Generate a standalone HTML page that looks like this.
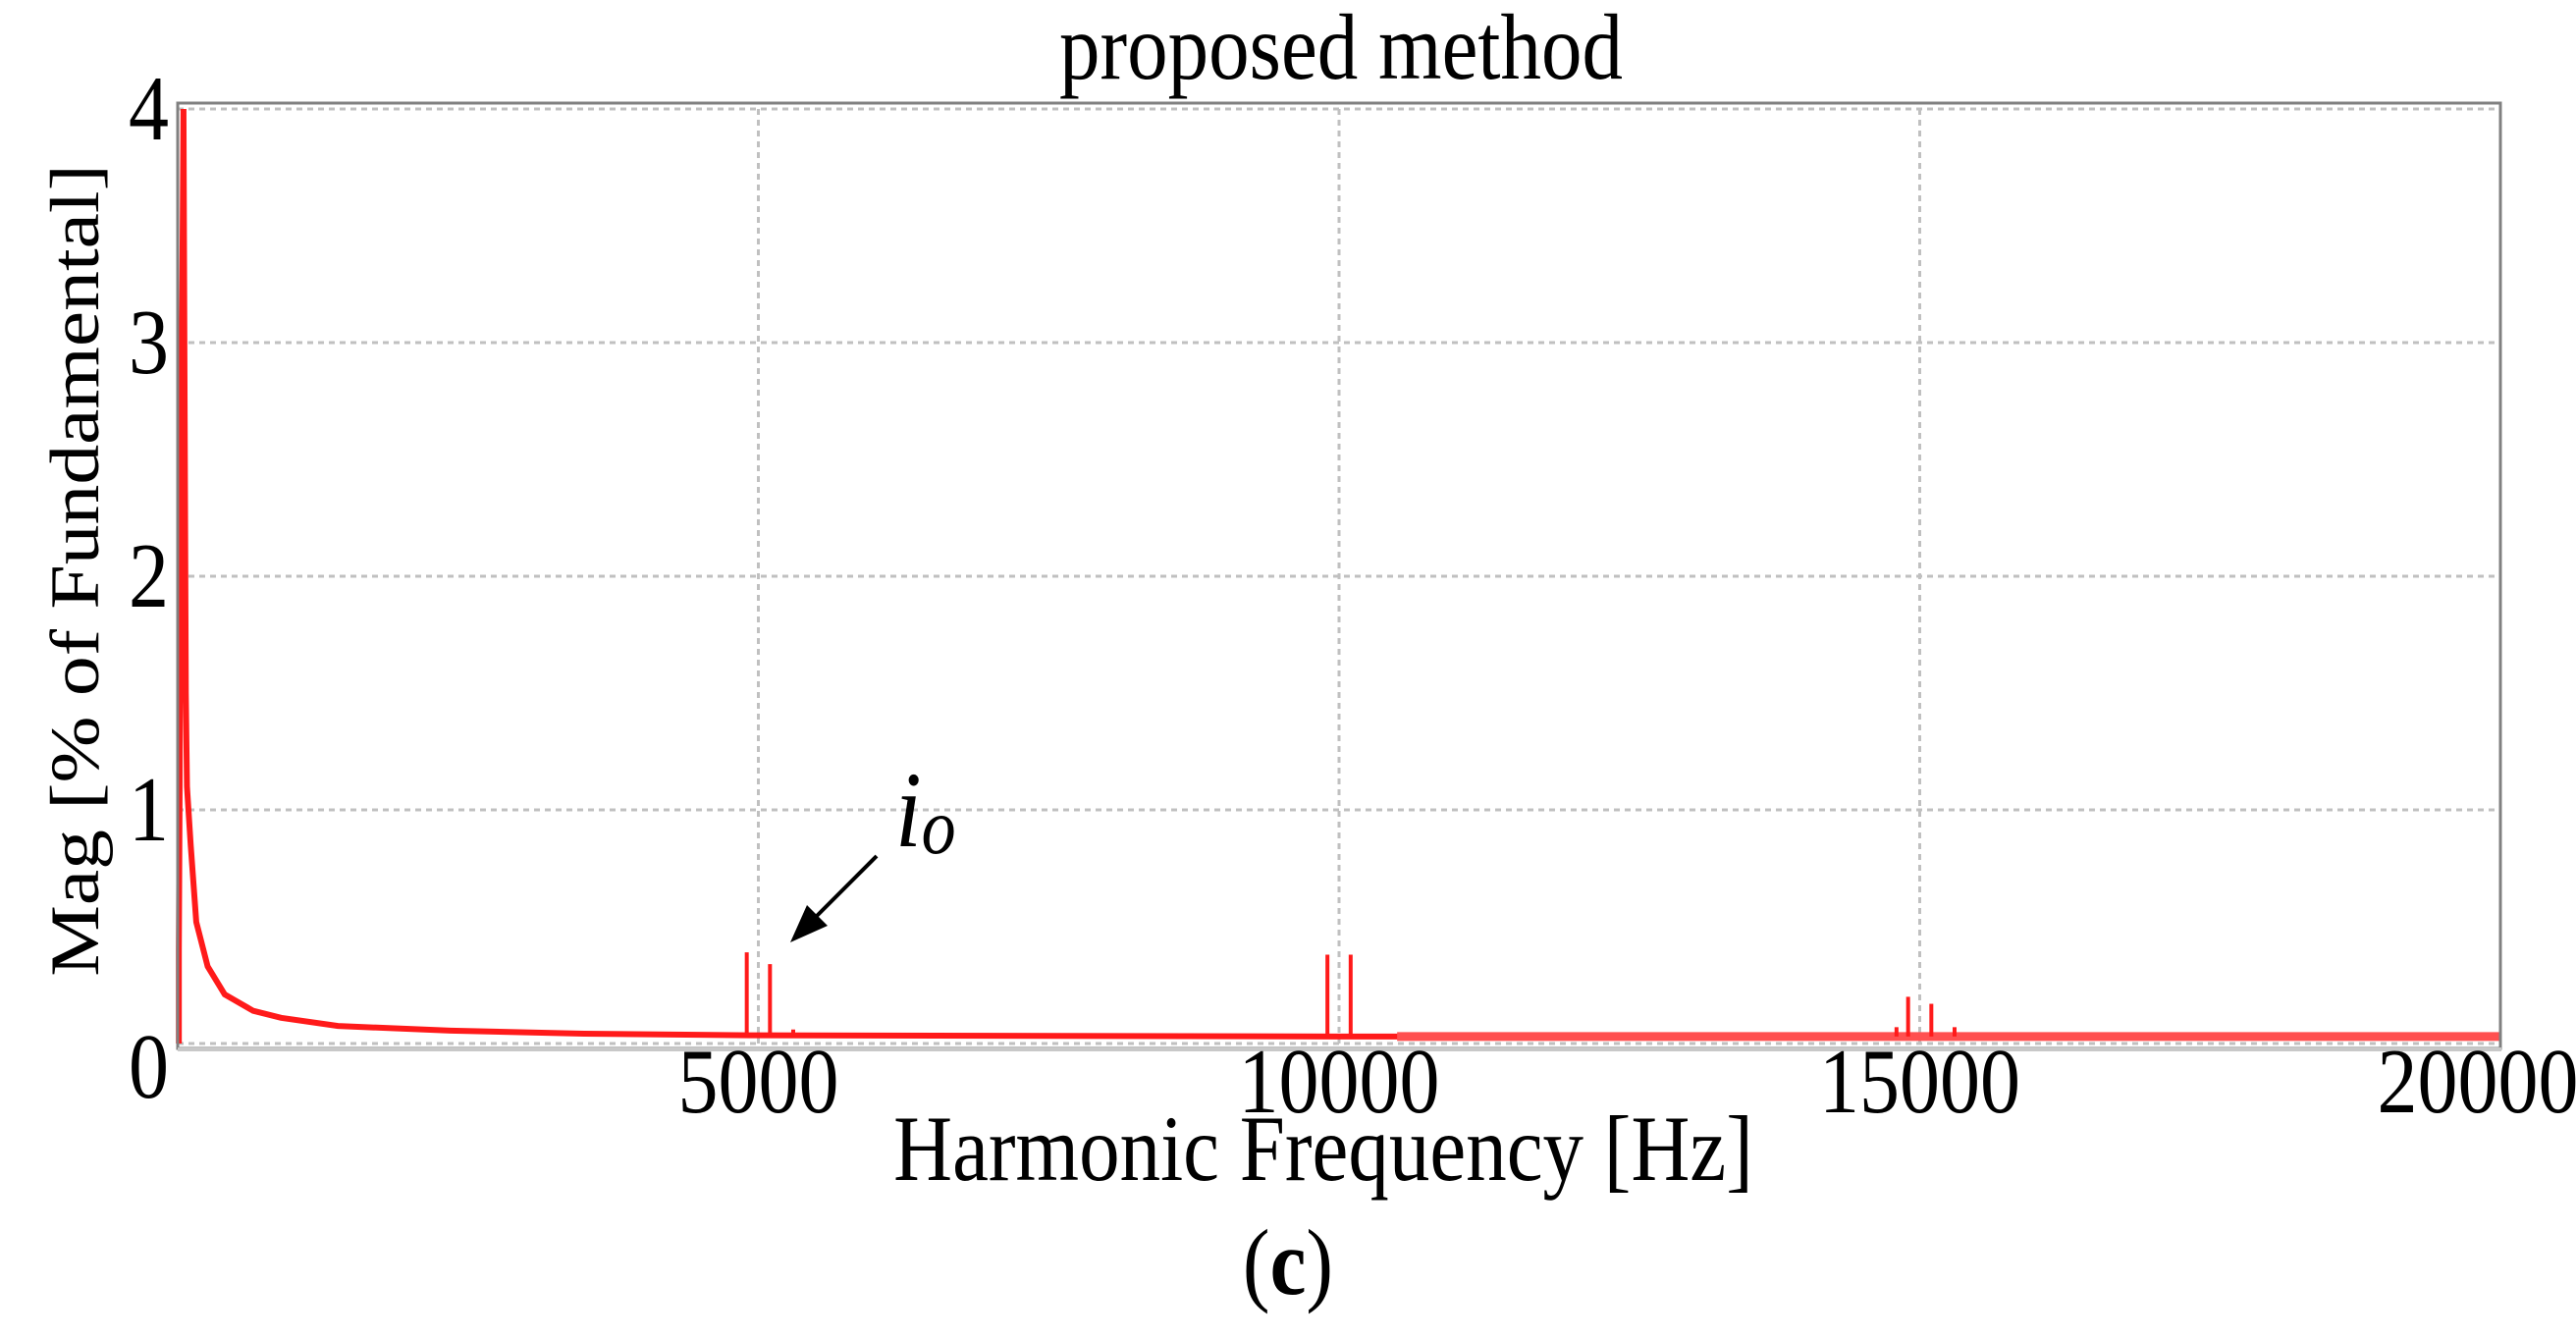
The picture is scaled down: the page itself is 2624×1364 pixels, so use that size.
<!DOCTYPE html>
<html><head><meta charset="utf-8"><style>
html,body{margin:0;padding:0;background:#fff;}
svg{display:block;font-family:"Liberation Serif",serif;}
</style></head><body>
<svg id="chart" width="2624" height="1364" viewBox="0 0 2624 1364">
<g transform="translate(1366,80) scale(1,1.15)"><text x="0" y="0" font-size="83" text-anchor="middle">proposed method</text></g>
<g id="grid"></g>
<g id="series"></g>
<rect x="181" y="105" width="2366" height="963" fill="none" stroke="#808080" stroke-width="3"/>
<line x1="181" y1="1069" x2="2548" y2="1069" stroke="#c8c8c8" stroke-width="4"/>
<g id="xticks"></g>
<g id="yticks"></g>
<g transform="translate(1348,1202) scale(1,1.15)"><text x="0" y="0" font-size="83" text-anchor="middle">Harmonic Frequency [Hz]</text></g>
<g transform="translate(100,581) rotate(-90) scale(1.15,1)"><text x="0" y="0" font-size="71" text-anchor="middle">Mag [% of Fundamental]</text></g>
<g transform="translate(912,862) scale(1,1.15)"><text x="0" y="0" font-size="96" font-style="italic">i<tspan font-size="70" dy="6">o</tspan></text></g>
<line x1="893" y1="872" x2="830" y2="935" stroke="#000" stroke-width="4"/>
<polygon points="805,960 822,922 843,943" fill="#000"/>
<g transform="translate(1312,1318) scale(1,1.15)"><text x="0" y="0" font-size="83" text-anchor="middle">(<tspan font-weight="bold">c</tspan>)</text></g>
</svg>
<script>
const xTicks=[5000,10000,15000,20000];
const yTicks=[0,1,2,3,4];
const baseFreq=[10,30,50,60,70,80,112,160,258,405,650,890,1380,2350,3500,5000,10000,20000];
const baseMag=[0.4,2.5,4.0,2.7,1.5,1.1,0.85,0.52,0.33,0.21,0.14,0.11,0.075,0.055,0.042,0.035,0.03,0.03];
const spikeFreq=[4900,5100,5300,9900,10100,14800,14900,15100,15300];
const spikeMag=[0.39,0.34,0.06,0.38,0.38,0.07,0.2,0.17,0.07];
const X0=181,X1=2547,Y0=1063,Y4=111;
const sx=f=>X0+(f-0)/(20000-0)*(X1-X0);
const sy=v=>Y0-(v/4)*(Y0-Y4);
const NS='http://www.w3.org/2000/svg';
const grid=document.getElementById('grid');
xTicks.forEach(t=>{if(t===20000)return;const l=document.createElementNS(NS,'line');
l.setAttribute('x1',sx(t));l.setAttribute('x2',sx(t));l.setAttribute('y1',Y4);l.setAttribute('y2',Y0+4);
l.setAttribute('stroke','#c0c0c0');l.setAttribute('stroke-width','3');l.setAttribute('stroke-dasharray','6,5');


grid.appendChild(l);});
yTicks.forEach(t=>{const l=document.createElementNS(NS,'line');
l.setAttribute('x1',X0);l.setAttribute('x2',X1);l.setAttribute('y1',sy(t));l.setAttribute('y2',sy(t));
l.setAttribute('stroke','#c0c0c0');l.setAttribute('stroke-width','3');l.setAttribute('stroke-dasharray','6,5');


grid.appendChild(l);});
const xt=document.getElementById('xticks');
xTicks.forEach(t=>{const g=document.createElementNS(NS,'g');
g.setAttribute('transform','translate('+(t===20000?2524:sx(t))+',1133) scale(1,1.15)');
const e=document.createElementNS(NS,'text');
e.setAttribute('x',0);e.setAttribute('y',0);e.setAttribute('font-size','82');
e.setAttribute('text-anchor','middle');e.textContent=t;


g.appendChild(e);xt.appendChild(g);});
const yt=document.getElementById('yticks');
yTicks.forEach(t=>{const g=document.createElementNS(NS,'g');
g.setAttribute('transform','translate(172,'+(t===0?1118:sy(t)+31)+') scale(1,1.15)');
const e=document.createElementNS(NS,'text');
e.setAttribute('x',0);e.setAttribute('y',0);e.setAttribute('font-size','82');
e.setAttribute('text-anchor','end');e.textContent=t;


g.appendChild(e);yt.appendChild(g);});
const ser=document.getElementById('series');
let d='M'+sx(baseFreq[0])+','+Y0;
baseFreq.forEach((f,i)=>{d+=' L'+sx(f)+','+sy(baseMag[i]);});
const p=document.createElementNS(NS,'path');
p.setAttribute('d',d);p.setAttribute('fill','none');p.setAttribute('stroke','#ff1a1a');p.setAttribute('stroke-width','6');


ser.appendChild(p);
const band=document.createElementNS(NS,'line');
band.setAttribute('x1',sx(10500));band.setAttribute('x2',X1);band.setAttribute('y1',sy(0.03));band.setAttribute('y2',sy(0.03));
band.setAttribute('stroke','#ff5050');band.setAttribute('stroke-width','9');


ser.appendChild(band);
spikeFreq.forEach((f,i)=>{const l=document.createElementNS(NS,'line');
l.setAttribute('x1',sx(f));l.setAttribute('x2',sx(f));l.setAttribute('y1',sy(0.03));l.setAttribute('y2',sy(spikeMag[i]));
l.setAttribute('stroke','#ff1a1a');l.setAttribute('stroke-width','4');


ser.appendChild(l);});
</script>
</body></html>
